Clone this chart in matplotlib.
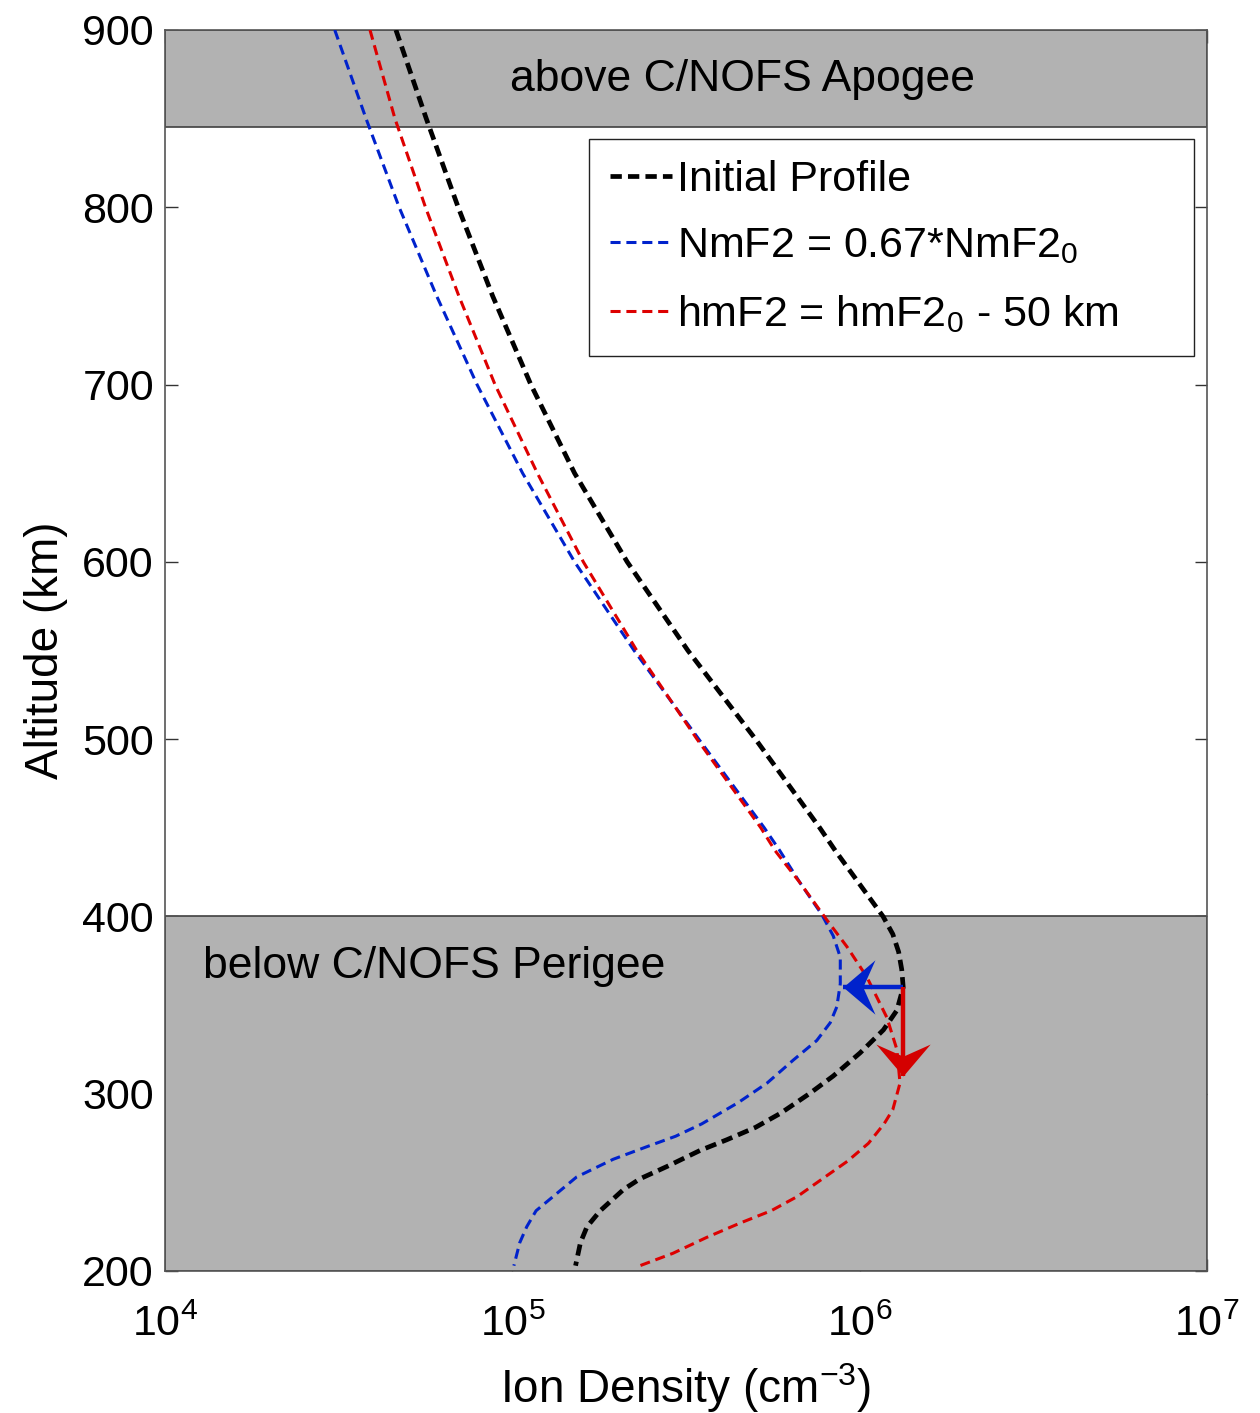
import numpy as np
import matplotlib
matplotlib.use('Agg')
import matplotlib.pyplot as plt
from matplotlib.path import Path

plt.rcParams['font.family'] = ['Liberation Sans', 'DejaVu Sans']
plt.rcParams['mathtext.fontset'] = 'custom'
plt.rcParams['mathtext.rm'] = 'Liberation Sans'
plt.rcParams['mathtext.it'] = 'Liberation Sans:italic'

# Ion density profiles (altitude in km, density in cm^-3)
# ----------------------------------------------

alt_init = [900, 850, 800, 750, 700, 650, 600, 550, 500, 450, 437, 400, 390,
            380, 370, 360, 347, 336, 323, 310, 300, 289, 281, 274, 268, 259,
            252, 246, 234, 225, 216, 203]
dens_init = [4.62e4, 5.65e4, 6.98e4, 8.77e4, 1.13e5, 1.51e5, 2.14e5, 3.20e5,
             5.01e5, 7.67e5, 8.51e5, 1.167e6, 1.245e6, 1.294e6, 1.321e6,
             1.334e6, 1.279e6, 1.170e6, 1.002e6, 8.39e5, 7.16e5, 5.92e5,
             5.01e5, 4.14e5, 3.47e5, 2.79e5, 2.33e5, 2.09e5, 1.79e5, 1.64e5,
             1.57e5, 1.52e5]

alt_nmf2 = [900, 850, 800, 750, 700, 650, 600, 550, 500, 450, 437, 419, 401,
            389, 377, 362, 349, 340, 330, 319, 306, 295, 283, 276, 270, 263,
            253, 242, 234, 225, 216, 203]
dens_nmf2 = [3.08e4, 3.79e4, 4.72e4, 6.05e4, 7.91e4, 1.07e5, 1.51e5, 2.24e5,
             3.44e5, 5.31e5, 5.89e5, 6.73e5, 7.78e5, 8.39e5, 8.79e5, 8.79e5,
             8.59e5, 8.22e5, 7.52e5, 6.44e5, 5.41e5, 4.47e5, 3.51e5, 2.95e5,
             2.43e5, 1.95e5, 1.53e5, 1.31e5, 1.17e5, 1.10e5, 1.05e5, 1.01e5]

alt_hmf2 = [900, 850, 800, 750, 700, 650, 600, 550, 500, 450, 437, 419, 398,
            383, 366, 343, 325, 306, 291, 283, 272, 262, 253, 242, 234, 227,
            219, 210, 203]
dens_hmf2 = [3.89e4, 4.59e4, 5.62e4, 7.01e4, 8.91e4, 1.18e5, 1.60e5, 2.28e5,
             3.40e5, 5.19e5, 5.71e5, 6.73e5, 8.04e5, 9.18e5, 1.047e6, 1.197e6,
             1.279e6, 1.306e6, 1.245e6, 1.175e6, 1.059e6, 9.23e5, 7.94e5,
             6.61e5, 5.56e5, 4.52e5, 3.63e5, 2.90e5, 2.33e5]

labels = ['Initial Profile', r'NmF2 = 0.67*NmF2$_\mathregular{0}$',
          r'hmF2 = hmF2$_\mathregular{0}$ - 50 km']

# satellite coverage limits (km)
apogee = 845
perigee = 400

# peak of the initial profile and the two perturbations
peak_alt = 360
peak_dens = 1.334e6
nmf2_factor = 0.67
hmf2_shift = 50

# Arrow heads
# ----------------------------------------------

head_left = Path([(0, 0), (1.0, 0.85), (0.62, 0), (1.0, -0.85), (0, 0)],
                 [Path.MOVETO, Path.LINETO, Path.LINETO, Path.LINETO, Path.CLOSEPOLY])
head_down = Path([(0, 0), (0.85, 1.0), (0, 0.62), (-0.85, 1.0), (0, 0)],
                 [Path.MOVETO, Path.LINETO, Path.LINETO, Path.LINETO, Path.CLOSEPOLY])

# Figure
# ----------------------------------------------

fig = plt.figure(figsize=(12.6, 14.13), dpi=100)
ax = fig.add_axes([0.131, 0.1005, 0.827, 0.8783])
ax.set_xscale('log')
ax.set_xlim(1e4, 1e7)
ax.set_ylim(200, 900)

shade = '#b2b2b2'
ax.axhspan(apogee, 900, facecolor=shade, edgecolor='#404040', lw=1.2, zorder=1)
ax.axhspan(200, perigee, facecolor=shade, edgecolor='#404040', lw=1.2, zorder=1)
ax.set_axisbelow(True)

ax.text(4.61e5, 872, 'above C/NOFS Apogee', fontsize=32, ha='center', va='center')
ax.text(1.29e4, 372, 'below C/NOFS Perigee', fontsize=32, ha='left', va='center')

l0, = ax.plot(dens_init, alt_init, color='k', lw=3.4, dashes=(2.4, 1.3), zorder=3)
l1, = ax.plot(dens_nmf2, alt_nmf2, color='#0022cc', lw=2.2, dashes=(3.3, 1.9), zorder=3)
l2, = ax.plot(dens_hmf2, alt_hmf2, color='#dd0000', lw=2.2, dashes=(3.3, 1.9), zorder=3)

# arrows showing the density and height perturbations
blue_arrow = '#0022cc'
red_arrow = '#d40000'
ax.plot([peak_dens, peak_dens * nmf2_factor], [peak_alt, peak_alt],
        color=blue_arrow, lw=3.2, solid_capstyle='butt', zorder=4)
ax.plot([peak_dens * nmf2_factor], [peak_alt], marker=head_left, ms=46,
        color=blue_arrow, mec=blue_arrow, mew=0, zorder=4)
ax.plot([peak_dens, peak_dens], [peak_alt, peak_alt - hmf2_shift],
        color=red_arrow, lw=3.2, solid_capstyle='butt', zorder=4)
ax.plot([peak_dens], [peak_alt - hmf2_shift], marker=head_down, ms=46,
        color=red_arrow, mec=red_arrow, mew=0, zorder=4)

ax.set_yticks(np.arange(200, 901, 100))
ax.set_xticks([1e4, 1e5, 1e6, 1e7])
ax.xaxis.set_minor_locator(matplotlib.ticker.NullLocator())
ax.tick_params(axis='both', which='major', direction='in', length=9, width=1,
               color='#333333', labelsize=31, top=True, right=True)
ax.tick_params(axis='x', pad=24)
ax.tick_params(axis='y', pad=8)
for sp in ax.spines.values():
    sp.set_color('#555555')
    sp.set_linewidth(1.2)

ax.set_xlabel(r'Ion Density (cm$^{\mathregular{-3}}$)', fontsize=33, labelpad=12)
ax.set_ylabel('Altitude (km)', fontsize=33, labelpad=10)

leg = ax.legend([l0, l1, l2], labels, loc='upper left',
                bbox_to_anchor=(0.407, 0.734, 0.58, 0.178), mode='expand',
                fontsize=31, handlelength=1.45, handletextpad=0.12,
                labelspacing=0.62, borderpad=0.48, fancybox=False,
                framealpha=1, edgecolor='#222222', borderaxespad=0)
leg.get_frame().set_linewidth(1.0)

fig.savefig('out.png', dpi=100)
